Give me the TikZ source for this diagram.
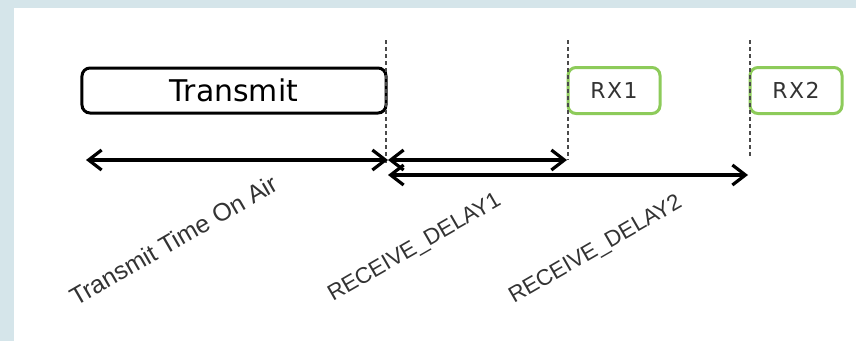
\documentclass[tikz,border=0pt]{standalone}
\usepackage{fontspec}
\setmainfont{Liberation Sans}
\newfontfamily\boxfont{DejaVu Sans}
\usetikzlibrary{arrows.meta}
\definecolor{bgblue}{HTML}{D5E5EA}
\definecolor{rxgreen}{HTML}{8DCB5A}
\definecolor{dashgray}{HTML}{4A4A4A}
\definecolor{labgray}{HTML}{333333}
\begin{document}
\begin{tikzpicture}[x=1bp,y=-1bp,
  txbox/.style={draw=black,line width=3bp,rounded corners=8bp,minimum width=304bp,minimum height=45bp,inner sep=0pt,font=\boxfont\fontsize{30}{30}\selectfont,text=black},
  rxbox/.style={draw=rxgreen,line width=3bp,rounded corners=8bp,minimum width=92bp,minimum height=46bp,inner sep=0pt,font=\boxfont\fontsize{22}{22}\selectfont,text=labgray},
  marker/.style={draw=dashgray,line width=1.6bp,dash pattern=on 4bp off 3bp},
  span/.style={draw=black,line width=3.2bp,{Straight Barb[length=13bp,width=20bp]}-{Straight Barb[length=13bp,width=20bp]}},
  spanlabel/.style={rotate=30,anchor=base west,inner sep=0pt,text=labgray,font=\fontsize{22.5}{22.5}\selectfont}
]
\useasboundingbox (0,0) rectangle (856,341);
\fill[bgblue] (0,0) rectangle (856,341);
\fill[white] (14,8) rectangle (856,341);

% boxes
\node[txbox] (tx) at (234,90.5) {Transmit};
\node[rxbox] (rx1) at (614,90.5) {R\kern1.5bp X\kern1.5bp 1};
\node[rxbox] (rx2) at (796,90.5) {R\kern1.5bp X\kern1.5bp 2};

% time points
\coordinate (m0top) at (386,40);
\coordinate (m1top) at (568,40);
\coordinate (m2top) at (750,40);
\coordinate (m0bot) at (386,163);
\coordinate (m1bot) at (568,160);
\coordinate (m2bot) at (750,158);

\draw[marker] (m0top) -- (m0bot);
\draw[marker] (m1top) -- (m1bot);
\draw[marker] (m2top) -- (m2bot);

\coordinate (a0) at (86,160);
\coordinate (a1) at (388,160);
\coordinate (b1) at (567,160);
\coordinate (c0) at (388,175);
\coordinate (c1) at (748,175);

\draw[span] (a0) -- (a1);
\draw[span] (a1) -- (b1);
\draw[span] (c0) -- (c1);

\node[spanlabel,font=\fontsize{25}{25}\selectfont] (l0) at (76,307) {Transmit Time On Air};
\node[spanlabel] (l1) at (333,302) {RECEIVE\_DELAY1};
\node[spanlabel] (l2) at (514,304) {RECEIVE\_DELAY2};
\end{tikzpicture}
\end{document}
